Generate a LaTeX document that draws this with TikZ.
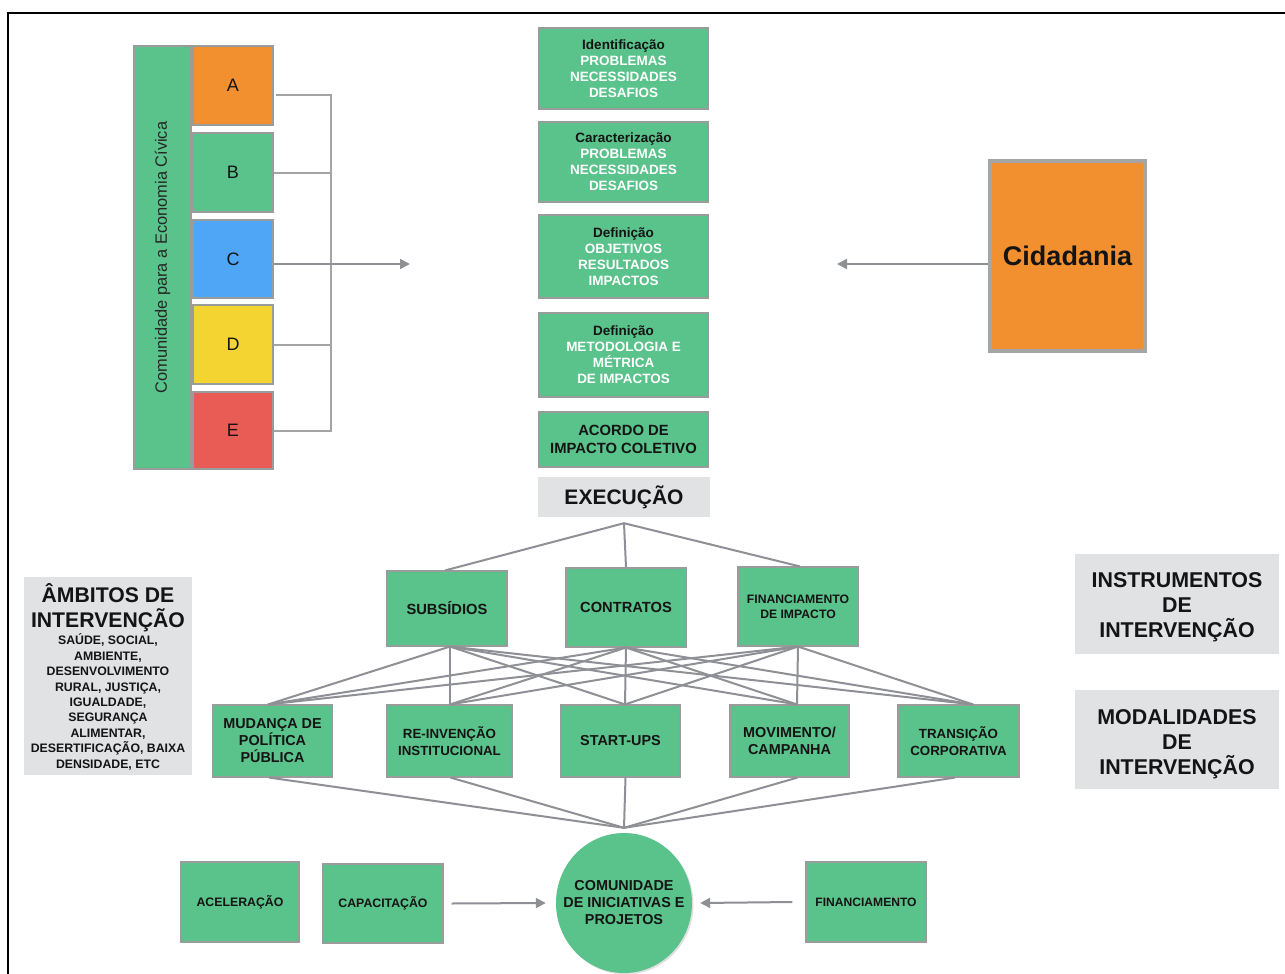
\documentclass[tikz,border=0pt]{standalone}
\usepackage{fontspec}
\setmainfont{Liberation Sans}
\usetikzlibrary{arrows.meta,shapes.geometric,shadows}

\definecolor{cgreen}{HTML}{5AC28B}
\definecolor{corange}{HTML}{F2902F}
\definecolor{cblue}{HTML}{4FA6F7}
\definecolor{cyellow}{HTML}{F3D430}
\definecolor{cred}{HTML}{E95C56}
\definecolor{edgegrey}{HTML}{989C9A}
\definecolor{cidedge}{HTML}{A4A6A5}
\definecolor{panelgrey}{HTML}{E1E2E4}
\definecolor{linegrey}{HTML}{8E9095}
\definecolor{bracketgrey}{HTML}{A4A4A4}
\definecolor{ink}{HTML}{141414}

\newcommand{\fs}[2]{\fontsize{#1}{#2}\selectfont}

\begin{document}
\begin{tikzpicture}[x=1pt,y=-1pt,
  gbox/.style={draw=edgegrey, line width=1.1pt, fill=cgreen, inner sep=0pt,
    align=center, text=ink},
  letter/.style={gbox, minimum width=80, font=\fs{18}{20}},
  stage/.style={gbox, minimum width=169, text=white, font=\fs{13.5}{16}\bfseries},
  instr/.style={gbox, minimum width=120},
  modal/.style={gbox, minimum width=119, minimum height=72},
  panel/.style={fill=panelgrey, draw=none, inner sep=0pt, align=center, text=ink},
  caption/.style={inner sep=0pt, align=center, text=ink},
  conn/.style={draw=linegrey, line width=2pt},
  bracket/.style={draw=bracketgrey, line width=2pt},
  arr/.style={draw=linegrey, line width=2pt, -{Triangle[length=10pt,width=10pt]}}
]
\useasboundingbox (0,0) rectangle (1285,974);
\fill[white] (0,0) rectangle (1285,974);

% outer frame
\draw[line width=2pt, black] (8,990) -- (8,13) -- (1295,13);

% ---- community block -------------------------------------------------
\node[gbox, rotate=90, minimum width=423, minimum height=57,
      font=\fs{16.4}{18}, text=black!85] (bar) at (162.5,257.5)
      {Comunidade para a Economia Cívica};
\node[letter, fill=corange, minimum height=79] (A) at (233,85.5) {A};
\node[letter, fill=cgreen,  minimum height=79] (B) at (233,172.5) {B};
\node[letter, fill=cblue,   minimum height=78] (C) at (233,259) {C};
\node[letter, fill=cyellow, minimum height=79] (D) at (233,344.5) {D};
\node[letter, fill=cred,    minimum height=77] (E) at (233,430.5) {E};

\coordinate (bus) at (331,95);
\coordinate (cin) at (410,264);
\draw[bracket] ([xshift=2pt]A.east |- bus) -- (bus) -- (bus |- E.east) -- (E.east);
\draw[bracket] (B.east) -- (B.east -| bus);
\draw[bracket] (D.east) -- (D.east -| bus);
\draw[arr] ([yshift=-5pt]C.east) -- (cin);

% ---- stages ------------------------------------------------------------
\node[stage, minimum height=81] (s1) at (623.5,68.5)
  {\textcolor{ink}{Identificação}\\PROBLEMAS\\NECESSIDADES\\DESAFIOS};
\node[stage, minimum height=80] (s2) at (623.5,162)
  {\textcolor{ink}{Caracterização}\\PROBLEMAS\\NECESSIDADES\\DESAFIOS};
\node[stage, minimum height=83] (s3) at (623.5,256.5)
  {\textcolor{ink}{Definição}\\OBJETIVOS\\RESULTADOS\\IMPACTOS};
\node[stage, minimum height=84] (s4) at (623.5,355)
  {\textcolor{ink}{Definição}\\METODOLOGIA E\\MÉTRICA\\DE IMPACTOS};
\node[stage, minimum height=55, text=ink, font=\fs{14.8}{18}\bfseries] (s5) at (623.5,439.5)
  {ACORDO DE\\IMPACTO COLETIVO};
\node[panel, minimum width=172, minimum height=40, font=\fs{21}{25}\bfseries] (exe) at (624,497)
  {EXECUÇÃO};

% ---- citizenship -------------------------------------------------------
\node[draw=cidedge, line width=4pt, fill=corange, minimum width=155, minimum height=190,
      inner sep=0pt, text=ink, font=\fs{27}{30}\bfseries] (cid) at (1067.5,256) {Cidadania};
\coordinate (cidin) at (837,264);
\draw[arr] ([yshift=-8pt]cid.west) -- (cidin);

% ---- instruments -------------------------------------------------------
\node[instr, minimum height=75, font=\fs{14.7}{17}\bfseries] (sub) at (447,608.5) {SUBSÍDIOS};
\node[instr, minimum height=79, font=\fs{14.7}{17}\bfseries] (con) at (626,607.5) {CONTRATOS};
\node[instr, minimum height=79, font=\fs{12.2}{15}\bfseries] (fin) at (798,606.5)
  {FINANCIAMENTO\\DE IMPACTO};

\coordinate (exej) at ([yshift=-6pt]exe.south);
\draw[conn] (exej) -- ([xshift=-2pt]sub.north);
\draw[conn] (exej) -- (con.north);
\draw[conn] (exej) -- ([xshift=2pt]fin.north);

% ---- modalities --------------------------------------------------------
\node[modal, font=\fs{14.4}{17}\bfseries] (mud) at (272.5,741)
  {MUDANÇA DE\\POLÍTICA\\PÚBLICA};
\node[modal, minimum width=125, font=\fs{13.3}{16.5}\bfseries] (rei) at (449.5,741)
  {RE-INVENÇÃO\\INSTITUCIONAL};
\node[modal, font=\fs{14.4}{17}\bfseries] (sta) at (620.5,741) {START-UPS};
\node[modal, font=\fs{14.4}{17}\bfseries] (mov) at (789.5,741)
  {MOVIMENTO/\\CAMPANHA};
\node[modal, minimum width=121, font=\fs{13.3}{17}\bfseries] (tra) at (958.5,741)
  {TRANSIÇÃO\\CORPORATIVA};

\foreach \i/\di in {sub/3, con/0, fin/0}
  \foreach \j/\dj in {mud/-4.5, rei/0.5, sta/4.5, mov/7.5, tra/14.5}
    \draw[conn] ([xshift=\di pt]\i.south) -- ([xshift=\dj pt]\j.north);

% ---- community of initiatives -----------------------------------------
\node[ellipse, fill=cgreen, draw=none, minimum width=136, minimum height=140, inner sep=0pt,
      drop shadow={shadow xshift=1.5pt, shadow yshift=-1.5pt, opacity=0.25}] (com) at (624,903) {};
\node[caption, font=\fs{14.4}{17}\bfseries] (comt) at (com.center)
  {COMUNIDADE\\DE INICIATIVAS E\\PROJETOS};
\coordinate (hub) at ([yshift=5pt]com.north);
\foreach \j/\dj in {mud/-3.5, rei/1, sta/5, mov/8, tra/-3.5}
  \draw[conn] ([xshift=\dj pt]\j.south) -- (hub);

\node[gbox, minimum width=118, minimum height=80, font=\fs{12.3}{15}\bfseries] (ace) at (240,902) {ACELERAÇÃO};
\node[gbox, minimum width=120, minimum height=79, font=\fs{12.3}{15}\bfseries] (cap) at (383,903.5) {CAPACITAÇÃO};
\node[gbox, minimum width=120, minimum height=80, font=\fs{12.1}{15}\bfseries] (fi2) at (866,902) {FINANCIAMENTO};
\draw[arr] ([xshift=8pt]cap.east) -- ([xshift=-10pt]com.west);
\draw[arr] ([xshift=-13pt]fi2.west) -- ([xshift=8pt]com.east);

% ---- side panels -------------------------------------------------------
\node[panel, minimum width=168, minimum height=198] (amb) at (108,676) {};
\node[caption, font=\fs{21.2}{25}\bfseries] (ambt) at (108,608)
  {ÂMBITOS DE\\INTERVENÇÃO};
\node[caption, font=\fs{12.3}{15.4}\bfseries] (ambb) at (108,702)
  {SAÚDE, SOCIAL,\\AMBIENTE,\\DESENVOLVIMENTO\\RURAL, JUSTIÇA,\\IGUALDADE,\\SEGURANÇA\\ALIMENTAR,\\DESERTIFICAÇÃO, BAIXA\\DENSIDADE, ETC};

\node[panel, minimum width=204, minimum height=100] (ins) at (1177,604) {};
\node[caption, font=\fs{21.4}{25}\bfseries] (inst) at (1177,607)
  {INSTRUMENTOS\\DE\\INTERVENÇÃO};
\node[panel, minimum width=204, minimum height=99] (mod) at (1177,739.5) {};
\node[caption, font=\fs{21.4}{25}\bfseries] (modt) at (1177,744)
  {MODALIDADES\\DE\\INTERVENÇÃO};
\end{tikzpicture}
\end{document}
